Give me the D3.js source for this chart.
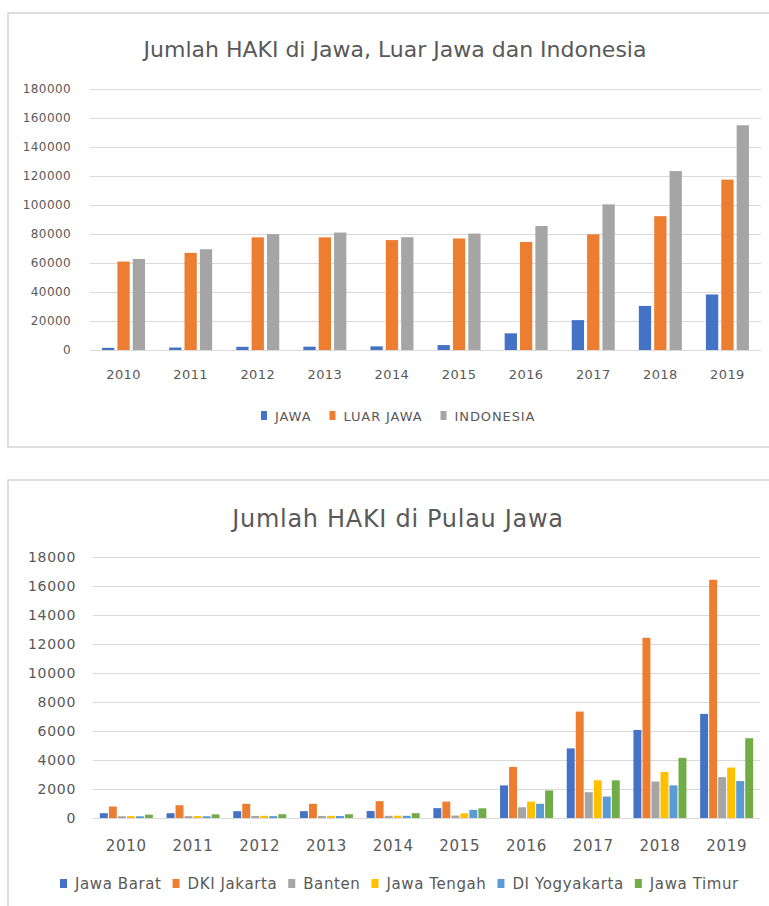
<!DOCTYPE html>
<html>
<head>
<meta charset="utf-8">
<script src="https://cdn.jsdelivr.net/npm/d3@7"></script>
<style>
  body { margin: 0; background: #fff; }
  svg text { font-family: "DejaVu Sans", sans-serif; fill: #595959; }
</style>
</head>
<body>
<svg id="chart" width="769" height="906"></svg>
<script>
// data
var years = ["2010","2011","2012","2013","2014","2015","2016","2017","2018","2019"];

var topSeries = ["JAWA", "LUAR JAWA", "INDONESIA"];
var jawa      = [1500, 1700, 2200, 2300, 2500, 3400, 11500, 20600, 30400, 38300];
var luarJawa  = [61000, 67000, 77700, 77700, 75800, 76900, 74500, 79800, 92300, 117500];
var indonesia = [62800, 69500, 79900, 81000, 77800, 80300, 85500, 100400, 123400, 155000];
var topTicks  = [0, 20000, 40000, 60000, 80000, 100000, 120000, 140000, 160000, 180000];

var bottomSeries = ["Jawa Barat", "DKI Jakarta", "Banten", "Jawa Tengah", "DI Yogyakarta", "Jawa Timur"];
var jawaBarat  = [330, 330, 470, 470, 480, 680, 2250, 4800, 6070, 7180];
var dkiJakarta = [790, 880, 980, 980, 1160, 1130, 3520, 7340, 12430, 16430];
var banten     = [120, 130, 140, 140, 150, 170, 740, 1780, 2520, 2820];
var jawaTengah = [130, 140, 150, 150, 160, 320, 1130, 2600, 3170, 3480];
var diy        = [120, 120, 130, 140, 150, 560, 980, 1480, 2250, 2550];
var jawaTimur  = [230, 250, 260, 260, 330, 670, 1900, 2600, 4150, 5500];
var bottomTicks = [0, 2000, 4000, 6000, 8000, 10000, 12000, 14000, 16000, 18000];

var topColors = ["#4472C4", "#ED7D31", "#A5A5A5"];
var bottomColors = ["#4472C4", "#ED7D31", "#A5A5A5", "#FFC000", "#5B9BD5", "#70AD47"];

var svg = d3.select("#chart");

/**
 * Draws one clustered column chart inside a framed box.
 */
function drawChart(cfg) {
    var g = svg.append("g");

    // frame
    g.append("rect")
        .attr("x", cfg.box[0]).attr("y", cfg.box[1])
        .attr("width", cfg.box[2]).attr("height", cfg.box[3])
        .attr("fill", "#fff")
        .attr("stroke", "#d4d4d4")
        .attr("stroke-width", 1.5);

    g.append("text")
        .attr("x", cfg.titleX).attr("y", cfg.titleY)
        .attr("text-anchor", "middle")
        .style("font-size", cfg.titleSize + "px")
        .style("letter-spacing", cfg.titleLs + "px")
        .text(cfg.title);

    var x = d3.scaleBand().domain(years).range([cfg.left, cfg.right]);
    var inner = d3.scaleBand().domain(cfg.series)
        .range([x.bandwidth() / 2 - cfg.groupW / 2, x.bandwidth() / 2 + cfg.groupW / 2])
        .paddingInner(cfg.barGap);
    var y = d3.scaleLinear().domain([0, cfg.ticks[cfg.ticks.length - 1]]).range([cfg.bottom, cfg.top]);

    // grid lines + tick labels
    var yAxis = g.append("g")
        .attr("transform", "translate(" + cfg.left + ",0)")
        .call(d3.axisLeft(y).tickValues(cfg.ticks).tickSize(-(cfg.right - cfg.left)).tickPadding(cfg.tickPad).tickFormat(d3.format("d")));
    yAxis.select(".domain").remove();
    yAxis.selectAll(".tick line").attr("stroke", "#d9d9d9").attr("stroke-width", 1);
    yAxis.selectAll(".tick text")
        .style("font-size", cfg.tickSize + "px")
        .style("letter-spacing", cfg.tickLs + "px")
        .attr("fill", "#595959");

    var xAxis = g.append("g")
        .attr("transform", "translate(0," + cfg.bottom + ")")
        .call(d3.axisBottom(x).tickSize(0).tickPadding(cfg.xPad));
    xAxis.select(".domain").remove();
    xAxis.selectAll(".tick text")
        .style("font-size", cfg.xSize + "px")
        .style("letter-spacing", cfg.tickLs + "px")
        .attr("fill", "#595959");

    // bars
    var rows = [];
    years.forEach(function (yr, i) {
        cfg.series.forEach(function (s, j) {
            rows.push({year: yr, name: s, value: cfg.values[j][i], color: cfg.colors[j]});
        });
    });
    g.append("g").selectAll("rect").data(rows).enter().append("rect")
        .attr("x", function (d) { return x(d.year) + inner(d.name); })
        .attr("y", function (d) { return y(d.value); })
        .attr("width", inner.bandwidth())
        .attr("height", function (d) { return cfg.bottom - y(d.value); })
        .attr("fill", function (d) { return d.color; });

    // legend
    var lg = g.append("g");
    var lx = cfg.legendX;
    cfg.series.forEach(function (s, j) {
        lg.append("rect")
            .attr("x", lx).attr("y", cfg.legendY - 10)
            .attr("width", cfg.sw).attr("height", 9)
            .attr("fill", cfg.colors[j]);
        var t = lg.append("text")
            .attr("x", lx + cfg.textOff).attr("y", cfg.legendY)
            .style("font-size", cfg.legendSize + "px")
            .style("letter-spacing", cfg.legendLs + "px")
            .text(s);
        lx += cfg.textOff + t.node().getComputedTextLength() + cfg.legendGap;
    });
}

drawChart({
    box: [8, 13, 790, 434],
    title: "Jumlah HAKI di Jawa, Luar Jawa dan Indonesia",
    titleX: 395, titleY: 57, titleSize: 22, titleLs: 0,
    left: 90, right: 761, top: 89, bottom: 350,
    ticks: topTicks, tickSize: 12, tickLs: 0.4, tickPad: 19,
    xSize: 13, xPad: 20,
    series: topSeries, values: [jawa, luarJawa, indonesia], colors: topColors,
    groupW: 43, barGap: 0.2,
    legendX: 261, legendY: 421, sw: 6, textOff: 14, legendSize: 13, legendLs: 0.9, legendGap: 18
});

drawChart({
    box: [8, 480, 790, 460],
    title: "Jumlah HAKI di Pulau Jawa",
    titleX: 398, titleY: 527, titleSize: 24, titleLs: 0.7,
    left: 93, right: 760, top: 557, bottom: 818,
    ticks: bottomTicks, tickSize: 14, tickLs: 0.7, tickPad: 17,
    xSize: 15, xPad: 22,
    series: bottomSeries, values: [jawaBarat, dkiJakarta, banten, jawaTengah, diy, jawaTimur], colors: bottomColors,
    groupW: 53, barGap: 0.12,
    legendX: 60, legendY: 889, sw: 7, textOff: 15, legendSize: 15, legendLs: 0.6, legendGap: 11
});
</script>
</body>
</html>
